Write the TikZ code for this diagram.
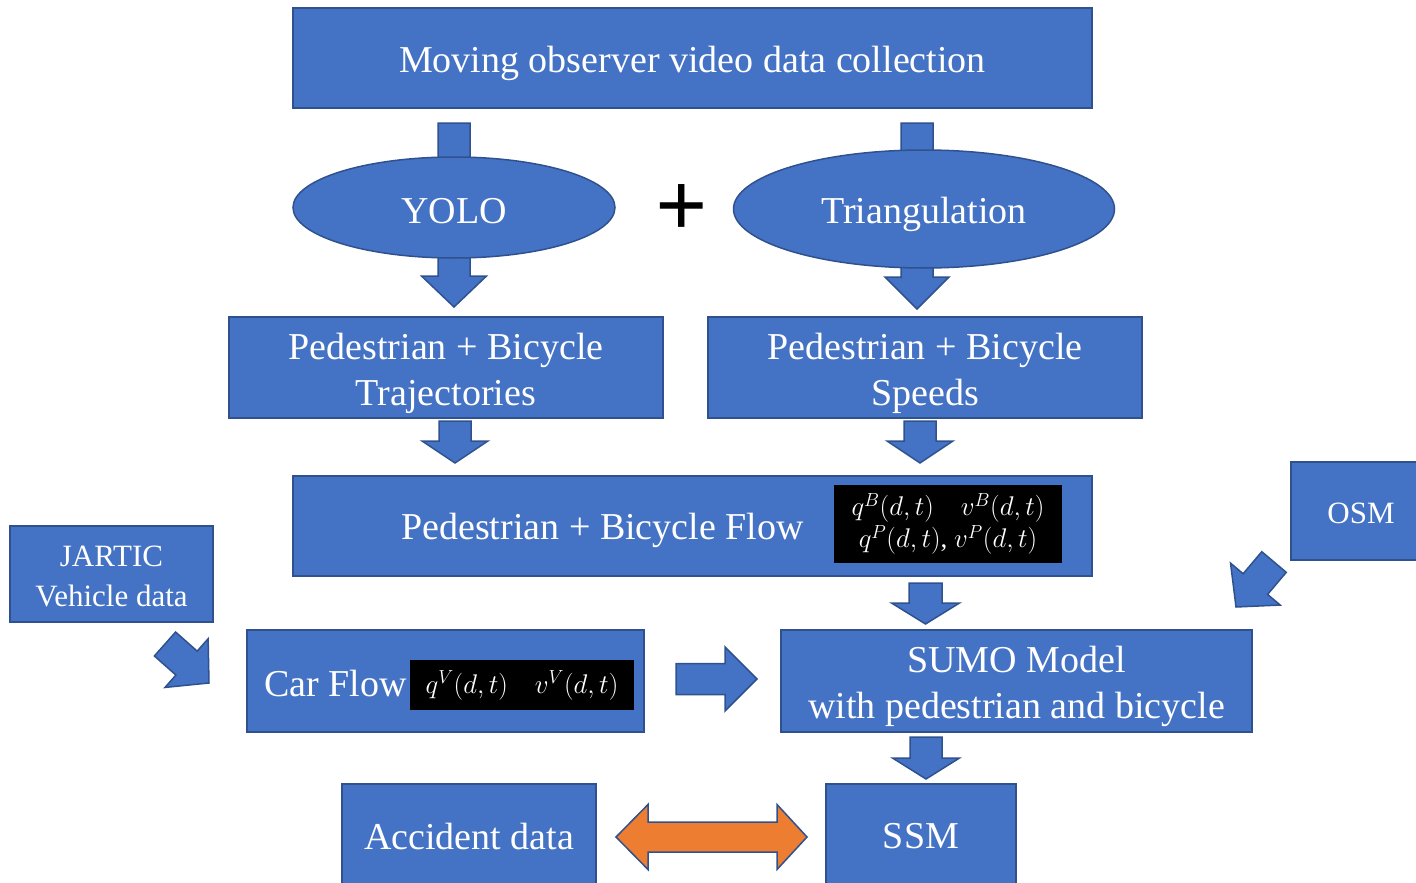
\RequirePackage{fix-cm}
\documentclass[tikz,border=0pt]{standalone}
\usepackage{fontspec}
\setmainfont{Liberation Serif}
\usetikzlibrary{shapes.geometric,calc,backgrounds}
\definecolor{boxblue}{HTML}{4472C4}
\definecolor{boxedge}{HTML}{2F528F}
\definecolor{arrorange}{HTML}{ED7D31}
\tikzset{
  blk/.style={draw=boxedge, fill=boxblue, line width=2pt, inner sep=0pt},
  ell/.style={blk, ellipse, line width=1.5pt},
  mathbox/.style={fill=black, inner sep=0pt, text=white, font=\fontsize{27}{32}\selectfont, align=center},
  lbl/.style={text=white, inner sep=0pt, font=\fontsize{38}{46}\selectfont, align=center},
  smalllbl/.style={lbl, font=\fontsize{31}{40}\selectfont},
  blockarrow/.style={draw=boxedge, fill=boxblue, line width=1.5pt, line join=miter},
  orangearrow/.style={draw=boxedge, fill=arrorange, line width=1.5pt, line join=miter},
}
% #2 from, #3 to (tip), #4 shaft half width, #5 head half width, #6 head length
\newcommand\blockarr[6][blockarrow]{%
  \coordinate (ba-h) at ($(#3)!#6!(#2)$);
  \path[#1] ($(#2)!#4!90:(#3)$) -- ($(ba-h)!#4!90:(#3)$) -- ($(ba-h)!#5!90:(#3)$) -- (#3)
    -- ($(ba-h)!#5!-90:(#3)$) -- ($(ba-h)!#4!-90:(#3)$) -- ($(#2)!#4!-90:(#3)$) -- cycle;}
\begin{document}
\begin{tikzpicture}[x=1pt, y=-1pt]
\useasboundingbox (0,0) rectangle (1416,883);

% nodes
\node[blk, minimum width=799pt, minimum height=100pt,
  label={[lbl, yshift=-5pt]center:Moving observer video data collection}] (top) at (692.5,58) {};
\node[ell, minimum width=322pt, minimum height=101pt,
  label={[lbl, yshift=-4pt]center:YOLO}] (yolo) at (454,207.5) {};
\node[ell, minimum width=381pt, minimum height=118pt,
  label={[lbl, yshift=-5pt]center:Triangulation}] (tri) at (924,209) {};
\node[inner sep=0pt, font=\bfseries\fontsize{92}{92}\selectfont] (plus) at (682,211) {+};
\node[blk, minimum width=434pt, minimum height=101pt,
  label={[lbl, yshift=-6pt]center:{Pedestrian + Bicycle\\Trajectories}}] (traj) at (446,367.5) {};
\node[blk, minimum width=434pt, minimum height=101pt,
  label={[lbl, yshift=-6pt]center:{Pedestrian + Bicycle\\Speeds}}] (speeds) at (925,367.5) {};
\node[blk, minimum width=799pt, minimum height=100pt] (flow) at (692.5,526) {};
\node[lbl] (flowtxt) at (602.5,530) {Pedestrian + Bicycle Flow};
\node[mathbox, minimum width=228pt, minimum height=78pt] (flowmath) at (948,524)
  {$q^B(d,t)$\quad$v^B(d,t)$\\$q^P(d,t)$, $v^P(d,t)$};
\node[blk, minimum width=203pt, minimum height=96pt,
  label={[smalllbl, yshift=-2pt]center:{JARTIC\\Vehicle data}}] (jartic) at (111.5,574) {};
\node[blk, minimum width=140pt, minimum height=98pt,
  label={[smalllbl, yshift=-2pt]center:OSM}] (osm) at (1361,511) {};
\node[blk, minimum width=397pt, minimum height=102pt] (car) at (445.5,681) {};
\node[lbl] (cartxt) at (335.5,683) {Car Flow};
\node[mathbox, minimum width=224pt, minimum height=50pt] (carmath) at (522,685) {$q^V(d,t)$\quad$v^V(d,t)$};
\node[blk, minimum width=471pt, minimum height=102pt,
  label={[lbl, yshift=-5pt]center:{SUMO Model\\with pedestrian and bicycle}}] (sumo) at (1016.5,681) {};
\node[blk, minimum width=254pt, minimum height=104pt,
  label={[lbl]center:Accident data}] (acc) at (469,836) {};
\node[blk, minimum width=190pt, minimum height=104pt,
  label={[lbl]center:SSM}] (ssm) at (921,836) {};

% arrow end points
\coordinate (a1s) at (454,123);   \coordinate (a1e) at (454,307);
\coordinate (a2s) at (917,123);   \coordinate (a2e) at (917,309);
\coordinate (a3s) at (455,421);   \coordinate (a3e) at (455,463);
\coordinate (a4s) at (920,421);   \coordinate (a4e) at (920,463);
\coordinate (a5s) at (925.5,583); \coordinate (a5e) at (925.5,624);
\coordinate (a6s) at (926,737);   \coordinate (a6e) at (926,779);
\coordinate (a7s) at (165,644);   \coordinate (a7e) at (209,683);
\coordinate (a8s) at (1274,562);  \coordinate (a8e) at (1236,607);
\coordinate (a9s) at (676,679);   \coordinate (a9e) at (757,679);
\coordinate (dl) at (616,837);    \coordinate (dr) at (807,837);

\begin{pgfonlayer}{background}
\blockarr{a1s}{a1e}{16pt}{32.5pt}{31pt}
\blockarr{a2s}{a2e}{16pt}{32pt}{32pt}
\end{pgfonlayer}
\blockarr{a3s}{a3e}{16pt}{33pt}{22pt}
\blockarr{a4s}{a4e}{16pt}{33pt}{22pt}
\blockarr{a5s}{a5e}{16.5pt}{34pt}{21pt}
\blockarr{a6s}{a6e}{16pt}{33.5pt}{21pt}
\blockarr{a7s}{a7e}{16pt}{32.5pt}{30pt}
\blockarr{a8s}{a8e}{16pt}{32.5pt}{30pt}
\blockarr{a9s}{a9e}{15.5pt}{32pt}{32pt}

% double arrow
\path[orangearrow] (dl) -- ++(32,-32.5) -- ++(0,17.5) -- ++(129,0) -- ++(0,-17.5)
  -- (dr) -- ++(-30,32.5) -- ++(0,-17.5) -- ++(-129,0) -- ++(0,17.5) -- cycle;
\end{tikzpicture}
\end{document}
